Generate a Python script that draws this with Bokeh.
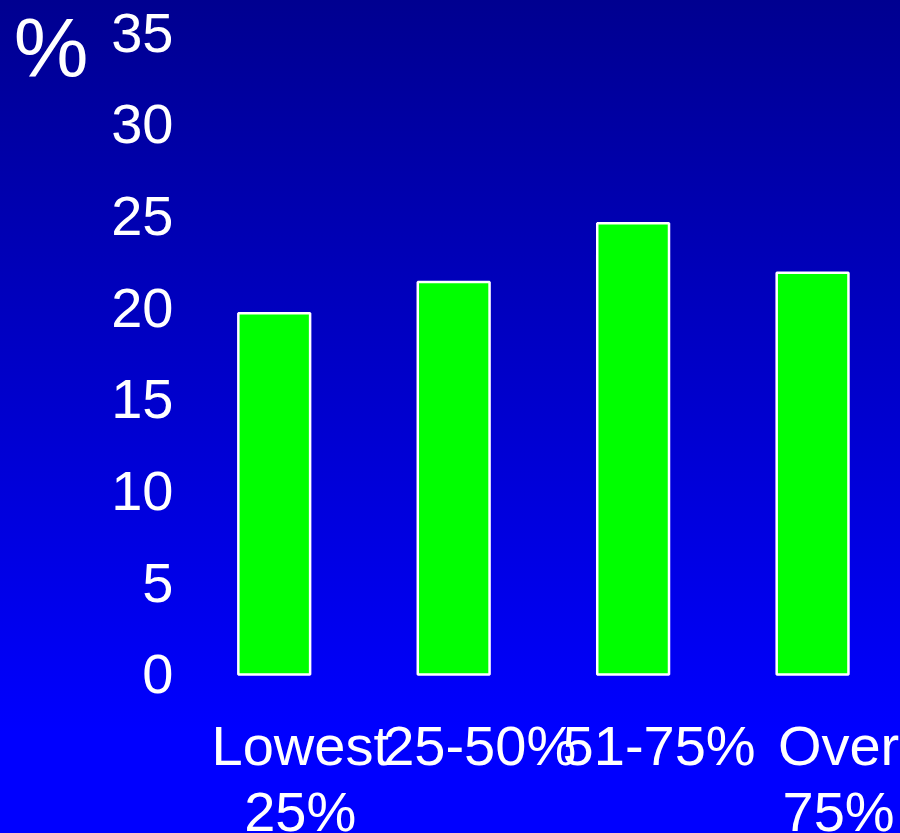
from bokeh.plotting import figure
from bokeh.models import ColumnDataSource, FixedTicker, LinearAxis, Range1d
from bokeh.embed import file_html
from bokeh.resources import INLINE
from bokeh.core.properties import value

categories = ["Lowest\n25%", "25-50%", "51-75%", "Over\n75%"]
values = [19.7, 21.4, 24.6, 21.9]
y_ticks = [0, 5, 10, 15, 20, 25, 30, 35]
unit_label = "%"

FONT = "Liberation Sans"

positions = list(range(len(categories)))
src = ColumnDataSource(dict(x=positions, top=values, label=categories,
                            base=[0] * len(categories)))

y_lo, y_hi = -8.67, 36.745
p = figure(width=900, height=833, output_backend="svg", toolbar_location=None,
           x_range=Range1d(-0.5, 3.49), y_range=Range1d(y_lo, y_hi),
           x_axis_location=None, min_border_left=184, min_border_right=0,
           min_border_top=0, min_border_bottom=0)

p.background_fill_alpha = 0
p.border_fill_alpha = 0
p.outline_line_color = None
p.grid.visible = False
p.styles = {"background": "linear-gradient(to bottom, #000090 0%, #0000FF 88%, #0000FF 100%)"}


def style_axis(ax, size, standoff):
    ax.axis_line_color = None
    ax.major_tick_line_color = None
    ax.minor_tick_line_color = None
    ax.major_tick_out = 0
    ax.major_tick_in = 0
    ax.minor_tick_out = 0
    ax.minor_tick_in = 0
    ax.major_label_standoff = standoff
    ax.major_label_text_color = "white"
    ax.major_label_text_font = FONT
    ax.major_label_text_font_size = size


ax = p.yaxis[0]
ax.ticker = FixedTicker(ticks=y_ticks)
style_axis(ax, "56px", 11)

# unit ("%") shown by a second left axis, shifted slightly
shift = 0.8
p.extra_y_ranges = {"unit": Range1d(y_lo + shift, y_hi + shift)}
unit_ax = LinearAxis(y_range_name="unit", ticker=FixedTicker(ticks=[y_ticks[-1]]),
                     major_label_overrides={y_ticks[-1]: unit_label})
style_axis(unit_ax, "84px", 20)
p.add_layout(unit_ax, "left")

p.vbar(x="x", top="top", bottom=0, width=0.4, source=src,
       fill_color="#00FF00", line_color="white", line_width=2.5)

p.text(x="x", y="base", text="label", source=src, x_offset=26, y_offset=40,
       text_align="center", text_baseline="top", text_color="white",
       text_font=value(FONT), text_font_size="56px", text_line_height=1.04)

open("out.html", "w").write(file_html(p, INLINE))
